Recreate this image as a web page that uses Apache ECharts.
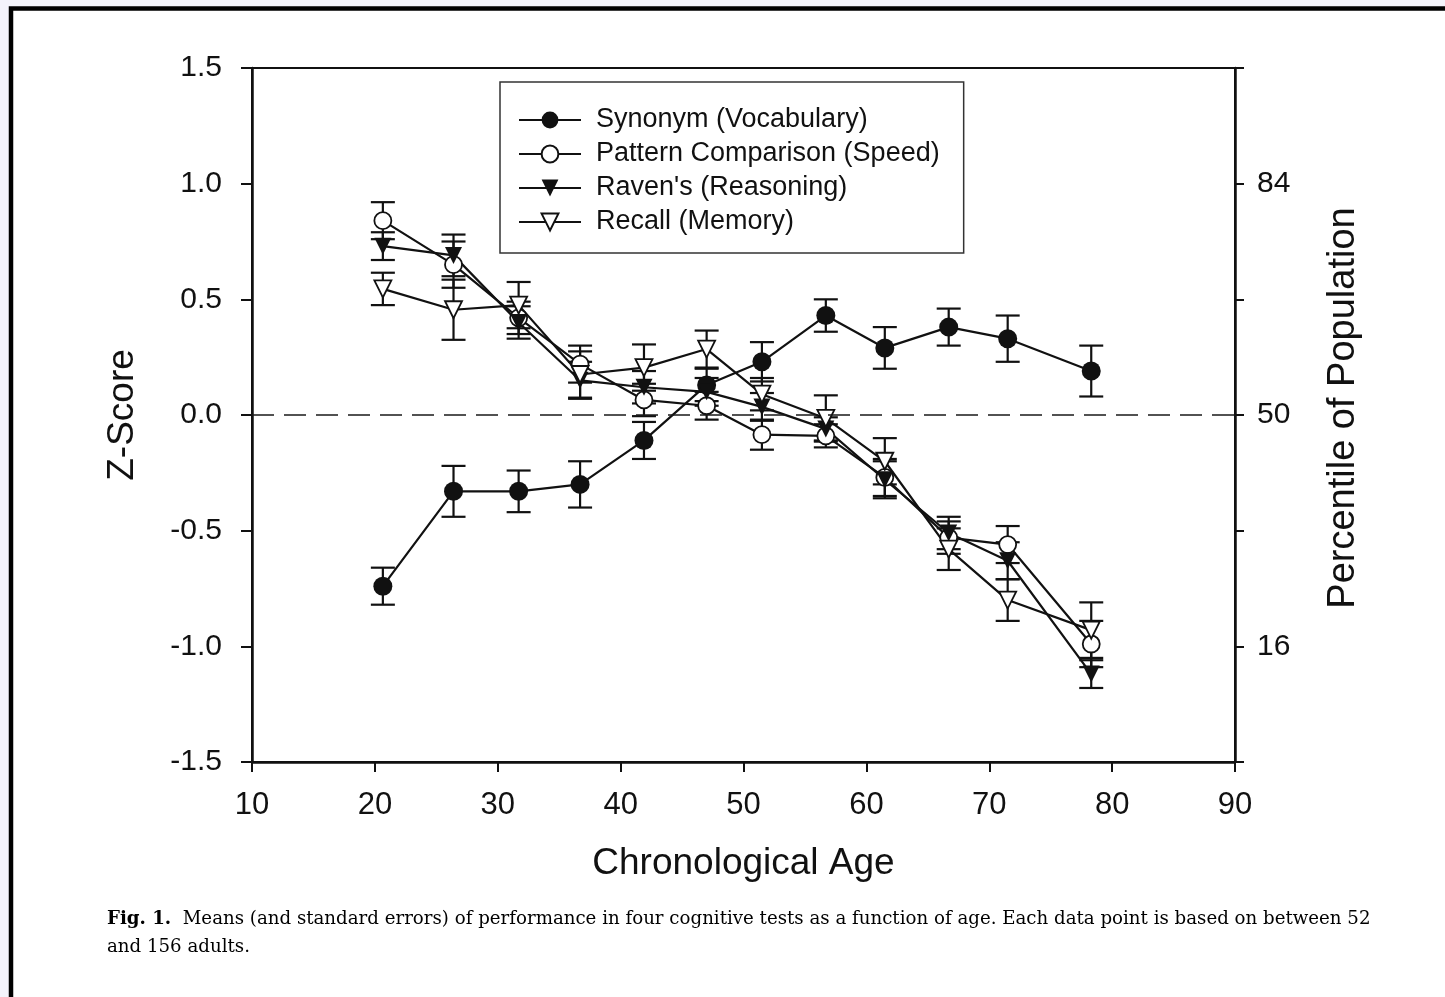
<!DOCTYPE html>
<html>
<head>
<meta charset="utf-8">
<script src="https://cdn.jsdelivr.net/npm/echarts@6/dist/echarts.min.js"></script>
<style>
html,body{margin:0;padding:0;background:#f4f3fb;}
#chart{width:1445px;height:997px;}
</style>
</head>
<body>
<div id="chart"></div>
<script>
// Data
const ages = [20.65, 26.4, 31.7, 36.7, 41.9, 47.0, 51.5, 56.7, 61.5, 66.7, 71.5, 78.3];

const synonym    = [-0.74, -0.33, -0.33, -0.30, -0.11, 0.13, 0.23, 0.43, 0.29, 0.38, 0.33, 0.19];
const synonymSE  = [0.08, 0.11, 0.09, 0.10, 0.08, 0.07, 0.085, 0.07, 0.09, 0.08, 0.10, 0.11];

const pattern    = [0.84, 0.65, 0.42, 0.22, 0.065, 0.04, -0.085, -0.09, -0.27, -0.53, -0.56, -0.99];
const patternSE  = [0.08, 0.10, 0.07, 0.08, 0.07, 0.06, 0.065, 0.05, 0.08, 0.07, 0.08, 0.10];

const ravens     = [0.73, 0.69, 0.40, 0.15, 0.12, 0.10, 0.035, -0.06, -0.28, -0.51, -0.63, -1.12];
const ravensSE   = [0.06, 0.09, 0.07, 0.08, 0.07, 0.06, 0.06, 0.05, 0.08, 0.07, 0.08, 0.06];

const recall     = [0.545, 0.455, 0.475, 0.175, 0.205, 0.285, 0.09, -0.015, -0.20, -0.58, -0.80, -0.93];
const recallSE   = [0.07, 0.13, 0.10, 0.10, 0.10, 0.08, 0.07, 0.10, 0.10, 0.09, 0.09, 0.12];

const seriesNames = ['Synonym (Vocabulary)', 'Pattern Comparison (Speed)', "Raven's (Reasoning)", 'Recall (Memory)'];
const xTicks = [10, 20, 30, 40, 50, 60, 70, 80, 90];
const zTicks = [-1.5, -1.0, -0.5, 0.0, 0.5, 1.0, 1.5];
const percentileLabels = {'1': '84', '0': '50', '-1': '16'};
const caption1 = 'Means (and standard errors) of performance in four cognitive tests as a function of age. Each data point is based on between 52';
const caption2 = 'and 156 adults.';

const FONT = 'Liberation Sans, Arial, sans-serif';

function pairs(ys) { return ages.map((a, i) => [a, ys[i]]); }
function errData(ys, se) { return ages.map((a, i) => [a, ys[i] - se[i], ys[i] + se[i]]); }

function errSeries(ys, se) {
  return {
    type: 'custom',
    z: 1,
    silent: true,
    data: errData(ys, se),
    renderItem: function (params, api) {
      const x = api.value(0);
      const lo = api.coord([x, api.value(1)]);
      const hi = api.coord([x, api.value(2)]);
      const hw = 12;
      const st = { stroke: '#111', lineWidth: 2.2 };
      return {
        type: 'group',
        children: [
          { type: 'line', shape: { x1: lo[0], y1: lo[1], x2: hi[0], y2: hi[1] }, style: st },
          { type: 'line', shape: { x1: lo[0] - hw, y1: lo[1], x2: lo[0] + hw, y2: lo[1] }, style: st },
          { type: 'line', shape: { x1: hi[0] - hw, y1: hi[1], x2: hi[0] + hw, y2: hi[1] }, style: st }
        ]
      };
    }
  };
}

function lineSeries(name, ys, symbol, filled, size, rotate) {
  return {
    name: name,
    type: 'line',
    z: 3,
    data: pairs(ys),
    symbol: symbol,
    symbolSize: size,
    symbolRotate: rotate || 0,
    showAllSymbol: true,
    lineStyle: { color: '#111', width: 2.2 },
    itemStyle: { color: filled ? '#111' : '#fff', borderColor: '#111', borderWidth: filled ? 0 : 1.8 },
    emphasis: { disabled: true },
    animation: false
  };
}

const chart = echarts.init(document.getElementById('chart'), null, { renderer: 'canvas' });

const synSeries = lineSeries(seriesNames[0], synonym, 'circle', true, 19);
synSeries.markLine = {
  silent: true,
  symbol: 'none',
  label: { show: false },
  lineStyle: { color: '#1a1a1a', width: 1.6, type: [22, 10] },
  data: [{ yAxis: 0 }],
  animation: false
};

const option = {
  backgroundColor: 'transparent',
  animation: false,
  graphic: [
    { type: 'rect', z: -10, shape: { x: 11, y: 8.5, width: 1500, height: 1100 },
      style: { fill: '#fff', stroke: '#000', lineWidth: 4.5 } },
    { type: 'text', left: 107, top: 910,
      style: { text: '{b|Fig. 1.}  ' + caption1,
        font: '18.2px "DejaVu Serif", serif', fill: '#000',
        rich: { b: { fontWeight: 'bold', fontFamily: 'DejaVu Serif', fontSize: 18.2, fill: '#000' } } } },
    { type: 'text', left: 107, top: 938,
      style: { text: caption2, font: '18.2px "DejaVu Serif", serif', fill: '#000' } }
  ],
  grid: { left: 252, right: 210, top: 68, bottom: 235, show: true, borderColor: '#111', borderWidth: 2, backgroundColor: 'transparent' },
  legend: {
    data: seriesNames,
    orient: 'vertical',
    left: 500, top: 82,
    backgroundColor: '#fff',
    borderColor: '#333', borderWidth: 1.5,
    padding: [24, 24, 17, 18],
    itemWidth: 62, itemHeight: 21,
    itemGap: 6,
    selectedMode: false,
    textStyle: { fontFamily: FONT, fontSize: 27, color: '#111', lineHeight: 28, padding: [0, 0, 0, 10] }
  },
  xAxis: {
    type: 'value', min: 10, max: 90, interval: 10,
    name: 'Chronological Age', nameLocation: 'middle', nameGap: 83,
    nameTextStyle: { fontFamily: FONT, fontSize: 37, color: '#111' },
    axisLine: { show: true, onZero: false, lineStyle: { color: '#111', width: 2.5 } },
    axisTick: { show: true, inside: false, length: 10, lineStyle: { color: '#111', width: 2 } },
    axisLabel: { fontFamily: FONT, fontSize: 31, color: '#111', margin: 28 },
    splitLine: { show: false }
  },
  yAxis: [
    {
      type: 'value', min: -1.5, max: 1.5, interval: 0.5,
      name: 'Z-Score', nameLocation: 'middle', nameGap: 111, nameRotate: 90,
      nameTextStyle: { fontFamily: FONT, fontSize: 37, color: '#111' },
      axisLine: { show: true, onZero: false, lineStyle: { color: '#111', width: 2.5 } },
      axisTick: { show: true, inside: false, length: 11, lineStyle: { color: '#111', width: 2 } },
      axisLabel: { fontFamily: FONT, fontSize: 30, color: '#111', margin: 30, formatter: v => v.toFixed(1) },
      splitLine: { show: false }
    },
    {
      type: 'value', min: -1.5, max: 1.5, interval: 0.5, position: 'right',
      name: 'Percentile of Population', nameLocation: 'middle', nameGap: 90, nameRotate: 90,
      nameTextStyle: { fontFamily: FONT, fontSize: 38, color: '#111', padding: [0, 0, 0, 14] },
      axisLine: { show: true, onZero: false, lineStyle: { color: '#111', width: 2.5 } },
      axisTick: { show: true, inside: false, length: 9, lineStyle: { color: '#111', width: 2 } },
      axisLabel: { fontFamily: FONT, fontSize: 30, color: '#111', margin: 22,
        formatter: v => (percentileLabels[String(Math.round(v * 10) / 10)] || '') },
      splitLine: { show: false }
    }
  ],
  series: [
    errSeries(synonym, synonymSE),
    errSeries(pattern, patternSE),
    errSeries(ravens, ravensSE),
    errSeries(recall, recallSE),
    synSeries,
    lineSeries(seriesNames[1], pattern, 'circle', false, 17),
    lineSeries(seriesNames[2], ravens, 'triangle', true, 17, 180),
    lineSeries(seriesNames[3], recall, 'triangle', false, 17, 180)
  ]
};
chart.setOption(option);
</script>
</body>
</html>
